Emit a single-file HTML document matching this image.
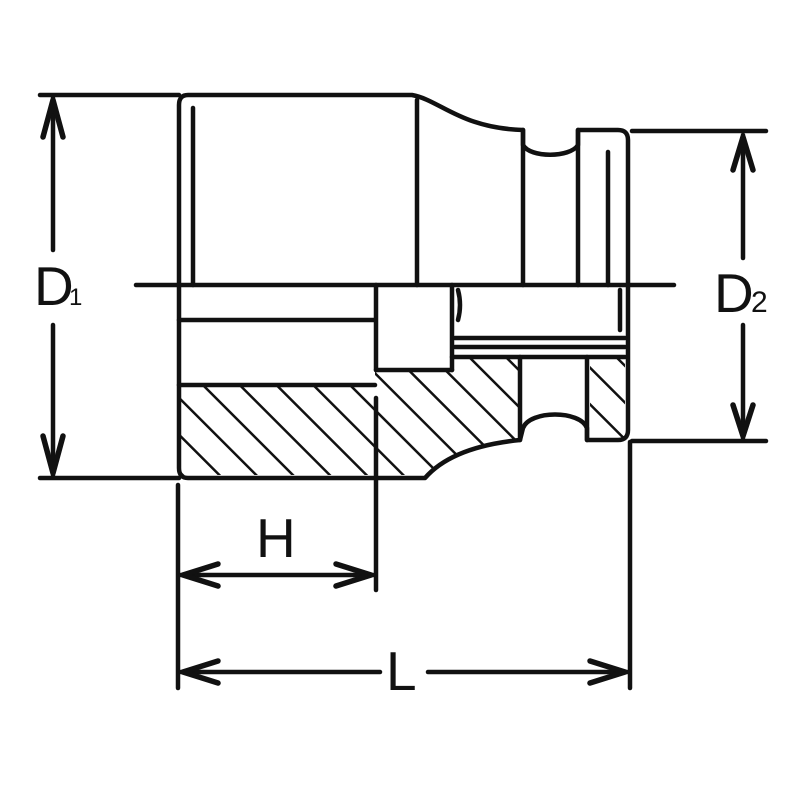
<!DOCTYPE html>
<html><head><style>html,body{margin:0;padding:0;background:#fff}svg{display:block}</style></head>
<body>
<svg width="800" height="800" viewBox="0 0 800 800" xmlns="http://www.w3.org/2000/svg">
<defs>
<pattern id="h" patternUnits="userSpaceOnUse" width="26" height="26" patternTransform="rotate(-45)">
<line x1="0" y1="0" x2="0" y2="26" stroke="#111" stroke-width="5"/>
</pattern>
<clipPath id="c1">
<path d="M181,385 L375,385 L375,370 L452,370 L452,357 L520,357 L520,440 C490,444 450,450 425,475 L181,475 Z"/>
</clipPath>
<clipPath id="c2"><path d="M590,357 L625,357 L625,438 L590,438 Z"/></clipPath>
</defs>
<g clip-path="url(#c1)"><rect x="170" y="350" width="360" height="140" fill="url(#h)"/></g>
<g clip-path="url(#c2)"><rect x="580" y="350" width="60" height="100" fill="url(#h)"/></g>
<g fill="none" stroke="#111" stroke-width="4.5" stroke-linecap="round" stroke-linejoin="round">
<path d="M188,95 L412,95 C440,100 460,128 523,130 L523,145 C530,158 570,158 578,145 L578,130 L618,130 Q628,130 628,140 L628,430 Q628,440 618,440 L587,440 L587,428 C580,410 530,410 523,428 L520,440 C480,444 445,455 425,478 L188,478 Q179,478 179,468 L179,105 Q179,95 188,95 Z"/>
<line x1="193" y1="108" x2="193" y2="285"/>
<line x1="417" y1="100" x2="417" y2="285"/>
<line x1="523" y1="130" x2="523" y2="285"/>
<line x1="578" y1="130" x2="578" y2="285"/>
<line x1="608" y1="152" x2="608" y2="285"/>
<line x1="136" y1="285" x2="674" y2="285"/>
<line x1="179" y1="320" x2="375" y2="320"/>
<line x1="179" y1="385" x2="375" y2="385"/>
<line x1="376" y1="285" x2="376" y2="370"/>
<line x1="376" y1="370" x2="452" y2="370"/>
<line x1="452" y1="285" x2="452" y2="370"/>
<line x1="452" y1="357" x2="625" y2="357"/>
<line x1="455" y1="338" x2="625" y2="338"/>
<line x1="455" y1="347" x2="625" y2="347"/>
<line x1="520" y1="357" x2="520" y2="440"/>
<line x1="587" y1="357" x2="587" y2="440"/>
<line x1="620" y1="290" x2="620" y2="330"/>
<path d="M458,290 Q462,305 458,320"/>
<line x1="40" y1="95" x2="179" y2="95"/>
<line x1="40" y1="478" x2="179" y2="478"/>
<line x1="53" y1="98" x2="53" y2="250"/>
<line x1="53" y1="325" x2="53" y2="475"/>
<line x1="632" y1="131" x2="766" y2="131"/>
<line x1="632" y1="441" x2="766" y2="441"/>
<line x1="743" y1="135" x2="743" y2="258"/>
<line x1="743" y1="325" x2="743" y2="438"/>
<line x1="178" y1="485" x2="178" y2="688"/>
<line x1="376" y1="398" x2="376" y2="590"/>
<line x1="630" y1="442" x2="630" y2="688"/>
<line x1="181" y1="575" x2="373" y2="575"/>
<line x1="181" y1="672" x2="380" y2="672"/>
<line x1="428" y1="672" x2="627" y2="672"/>
</g>
<g fill="none" stroke="#111" stroke-width="5.5" stroke-linecap="round" stroke-linejoin="round">
<path d="M43,137 L53,100 L63,137"/>
<path d="M43,436 L53,473 L63,436"/>
<path d="M733,170 L743,137 L753,170"/>
<path d="M733,405 L743,436 L753,405"/>
<path d="M218,564 L183,575 L218,586"/>
<path d="M336,564 L371,575 L336,586"/>
<path d="M218,661 L183,672 L218,683"/>
<path d="M590,661 L625,672 L590,683"/>
</g>
<g font-family="Liberation Sans, sans-serif" fill="#111">
<text x="34" y="305" font-size="55">D</text><text x="69" y="305" font-size="24">1</text>
<text x="714" y="312" font-size="55">D</text><text x="751" y="312" font-size="30">2</text>
<text x="256" y="557" font-size="55">H</text>
<text x="386" y="690" font-size="55">L</text>
</g>
</svg>
</body></html>
